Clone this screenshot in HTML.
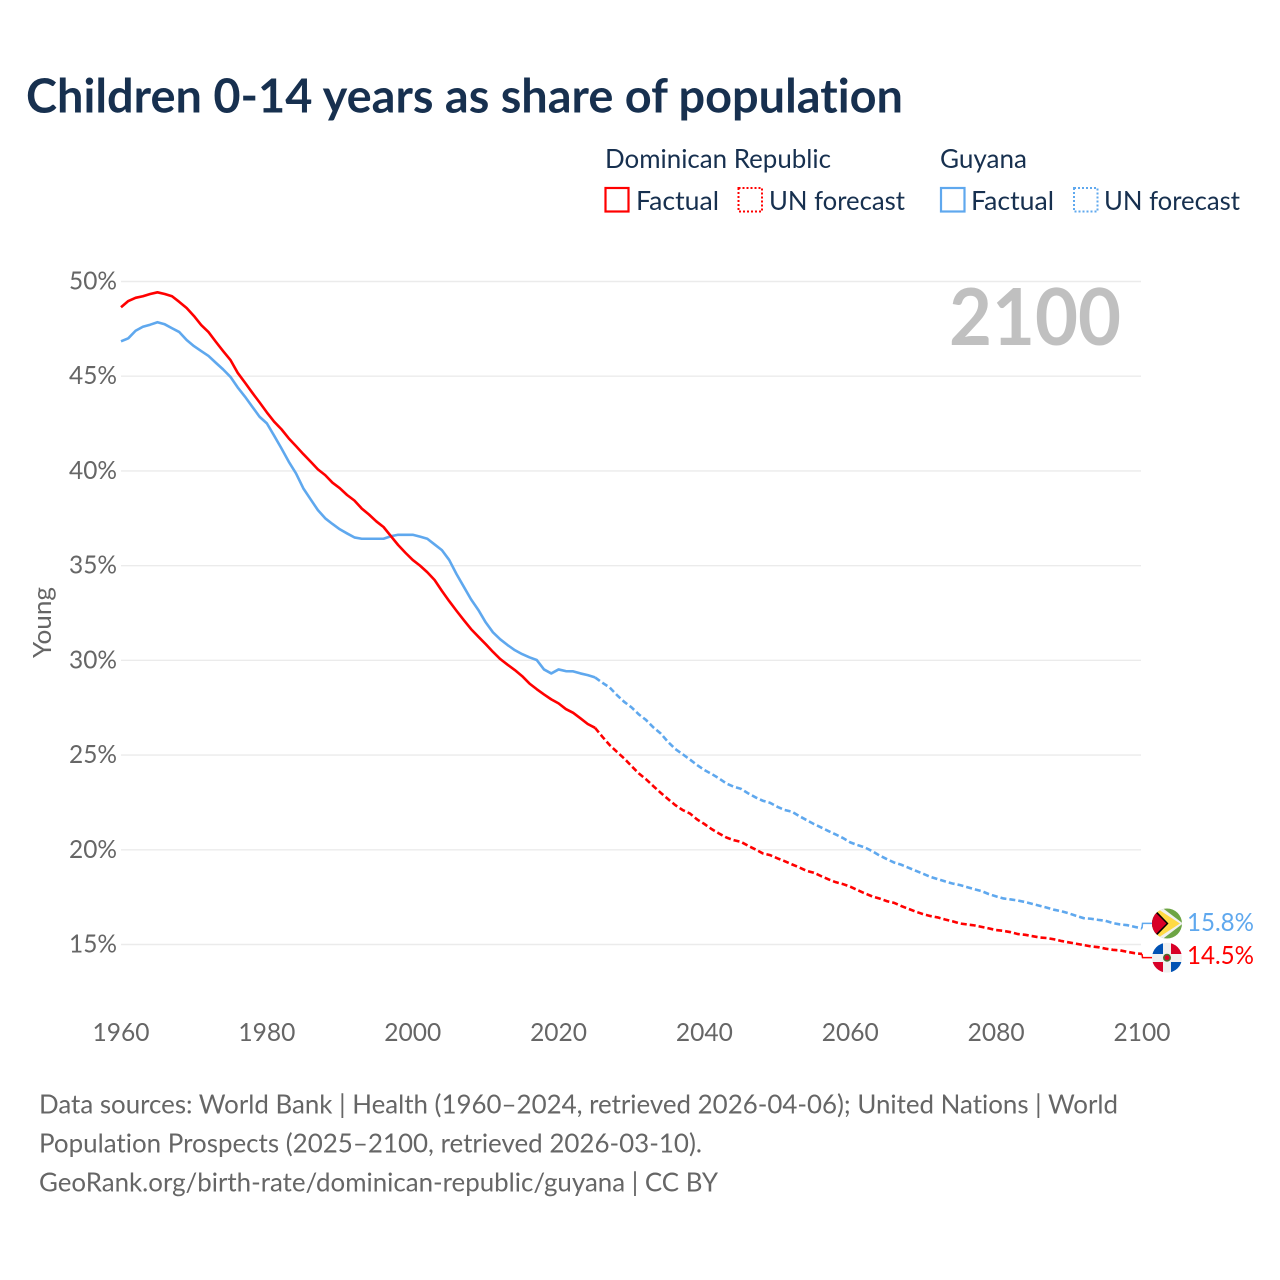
<!DOCTYPE html>
<html lang="en">
<head>
<meta charset="utf-8">
<title>Children 0-14 years as share of population</title>
<style>
html,body{margin:0;padding:0;background:#fff;}
svg{display:block;font-family:"Lato","Carlito","Liberation Sans",sans-serif;}
text{font-variant-ligatures:none;}
</style>
</head>
<body>
<svg id="chart" xmlns="http://www.w3.org/2000/svg" width="1280" height="1280" viewBox="0 0 1280 1280">
  <rect x="0" y="0" width="1280" height="1280" fill="#ffffff"/>
  <text x="26" y="112.5" font-size="47" font-weight="700" fill="#17304f" textLength="877" lengthAdjust="spacingAndGlyphs">Children 0-14 years as share of population</text>

  <g>
    <text x="605" y="168" font-size="26" fill="#17304f" textLength="226" lengthAdjust="spacingAndGlyphs">Dominican Republic</text>
    <text x="940" y="168" font-size="26" fill="#17304f" textLength="87" lengthAdjust="spacingAndGlyphs">Guyana</text>
    <g>
      <rect x="605.5" y="188" width="23" height="23.5" fill="none" stroke="#ff0000" stroke-width="2.2"/>
      <text x="636" y="210" font-size="26" fill="#17304f" textLength="83" lengthAdjust="spacingAndGlyphs">Factual</text>
    </g>
    <g>
      <rect x="738.5" y="188" width="23.5" height="23.5" fill="none" stroke="#ff0000" stroke-width="2" stroke-dasharray="2 2"/>
      <text x="769" y="210" font-size="26" fill="#17304f" textLength="136" lengthAdjust="spacingAndGlyphs">UN forecast</text>
    </g>
    <g>
      <rect x="941" y="188" width="23.5" height="23.5" fill="none" stroke="#5fa8ee" stroke-width="2.2"/>
      <text x="971" y="210" font-size="26" fill="#17304f" textLength="83" lengthAdjust="spacingAndGlyphs">Factual</text>
    </g>
    <g>
      <rect x="1074" y="188" width="23.5" height="23.5" fill="none" stroke="#5fa8ee" stroke-width="2" stroke-dasharray="2 2"/>
      <text x="1104" y="210" font-size="26" fill="#17304f" textLength="136" lengthAdjust="spacingAndGlyphs">UN forecast</text>
    </g>
  </g>

  <g id="grid"></g>
  <g id="yticks"></g>
  <g id="xticks"></g>
  <text transform="translate(51 622.5) rotate(-90)" text-anchor="middle" font-size="25" fill="#666666" textLength="71" lengthAdjust="spacingAndGlyphs">Young</text>
  <text x="949" y="345" font-size="79" font-weight="700" fill="#c0c0c0" textLength="172" lengthAdjust="spacingAndGlyphs">2100</text>

  <g id="series"></g>

  <defs>
    <clipPath id="flag-clip-gy"><circle cx="1167" cy="923.5" r="15"/></clipPath>
    <clipPath id="flag-clip-dr"><circle cx="1167" cy="957.7" r="15"/></clipPath>
  </defs>
  <g id="flag-guyana" clip-path="url(#flag-clip-gy)">
    <rect x="1152" y="908.5" width="30" height="30" fill="#6da544"/>
    <path d="M1152 900 L1183 923.5 L1152 947 Z" fill="#f0f0f0"/>
    <path d="M1152 905.2 L1180 923.5 L1152 941.8 Z" fill="#ffda44"/>
    <path d="M1152 906.5 L1168.5 923.5 L1152 940.5 Z" fill="#000000"/>
    <path d="M1152 909 L1166.5 923.5 L1152 938 Z" fill="#d80027"/>
  </g>
  <g id="flag-dr" clip-path="url(#flag-clip-dr)">
    <rect x="1152" y="942.7" width="30" height="30" fill="#f0f0f0"/>
    <rect x="1152" y="942.7" width="11" height="11.3" fill="#0052b4"/>
    <rect x="1171" y="942.7" width="11" height="11.3" fill="#d80027"/>
    <rect x="1152" y="962" width="11" height="11" fill="#d80027"/>
    <rect x="1171" y="962" width="11" height="11" fill="#0052b4"/>
    <circle cx="1167" cy="957.7" r="4" fill="#496e2d"/>
    <circle cx="1167" cy="957.7" r="2.4" fill="#d80027"/>
  </g>

  <g font-size="26" fill="#666666">
    <text x="39" y="1113.5" textLength="1079" lengthAdjust="spacingAndGlyphs">Data sources: World Bank | Health (1960–2024, retrieved 2026-04-06); United Nations | World</text>
    <text x="39" y="1152.5" textLength="663" lengthAdjust="spacingAndGlyphs">Population Prospects (2025–2100, retrieved 2026-03-10).</text>
    <text x="39" y="1191.5" textLength="679" lengthAdjust="spacingAndGlyphs">GeoRank.org/birth-rate/dominican-republic/guyana | CC BY</text>
  </g>
</svg>

<script>
const xTickLabels = [1960, 1980, 2000, 2020, 2040, 2060, 2080, 2100];
const yTickValues = [50, 45, 40, 35, 30, 25, 20, 15];
const factualStartYear = 1960;
const forecastStartYear = 2025;

const drFactual = [48.64,48.97,49.14,49.22,49.34,49.43,49.34,49.22,48.92,48.60,
48.18,47.70,47.33,46.82,46.33,45.86,45.18,44.66,44.13,43.62,
43.09,42.60,42.20,41.72,41.31,40.89,40.49,40.08,39.78,39.38,
39.09,38.73,38.44,38.02,37.70,37.34,37.04,36.56,36.09,35.68,
35.30,35.00,34.65,34.24,33.67,33.13,32.62,32.13,31.65,31.25,
30.86,30.45,30.07,29.77,29.49,29.17,28.78,28.48,28.20,27.94,
27.73,27.43,27.23,26.94,26.64,26.44];

const drForecast = [26.44,25.97,25.53,25.17,24.82,24.42,24.03,23.72,23.36,23.01,
22.68,22.36,22.10,21.92,21.60,21.36,21.09,20.86,20.65,20.51,
20.42,20.21,20.02,19.81,19.72,19.55,19.40,19.23,19.07,18.89,
18.79,18.61,18.44,18.29,18.19,18.05,17.87,17.70,17.54,17.43,
17.29,17.20,17.03,16.88,16.73,16.60,16.50,16.43,16.32,16.23,
16.11,16.06,16.01,15.93,15.85,15.76,15.72,15.65,15.55,15.51,
15.44,15.37,15.34,15.27,15.18,15.11,15.04,14.97,14.90,14.86,
14.78,14.72,14.69,14.61,14.54,14.50];

const guyanaFactual = [46.84,47.00,47.40,47.61,47.72,47.85,47.74,47.53,47.33,46.91,
46.59,46.33,46.07,45.71,45.36,44.97,44.41,43.92,43.39,42.86,
42.51,41.86,41.19,40.49,39.87,39.08,38.50,37.93,37.50,37.20,
36.92,36.70,36.49,36.42,36.42,36.42,36.42,36.55,36.63,36.63,
36.63,36.53,36.42,36.12,35.82,35.30,34.56,33.89,33.22,32.66,
32.01,31.48,31.11,30.81,30.54,30.33,30.16,30.02,29.52,29.31,
29.52,29.43,29.42,29.31,29.22,29.10];

const guyanaForecast = [29.10,28.82,28.57,28.17,27.81,27.52,27.15,26.85,26.46,26.14,
25.70,25.32,25.05,24.77,24.47,24.21,24.00,23.77,23.50,23.33,
23.22,22.98,22.77,22.59,22.48,22.27,22.10,22.01,21.78,21.57,
21.36,21.18,20.99,20.81,20.62,20.39,20.25,20.12,19.93,19.70,
19.51,19.33,19.21,19.05,18.89,18.73,18.57,18.45,18.33,18.22,
18.14,18.03,17.92,17.82,17.66,17.54,17.43,17.38,17.32,17.24,
17.14,17.04,16.94,16.83,16.75,16.64,16.51,16.39,16.36,16.30,
16.25,16.13,16.06,16.02,15.93,15.85];

const drLabel = "14.5%";
const guyanaLabel = "15.8%";

const NS = "http://www.w3.org/2000/svg";
const RED = "#ff0000";
const BLUE = "#5fa8ee";

function xScale(year) { return 121 + (year - 1960) * (1142 - 121) / 140; }
function yScale(value) { return 281.5 + (50 - value) * (944.5 - 281.5) / 35; }

function make(tag, parent, attrs) {
  const el = document.createElementNS(NS, tag);
  for (const k in attrs) el.setAttribute(k, attrs[k]);
  parent.appendChild(el);
  return el;
}

const gridGroup = document.getElementById("grid");
const yTickGroup = document.getElementById("yticks");
const xTickGroup = document.getElementById("xticks");
const seriesGroup = document.getElementById("series");

yTickValues.forEach(function (v) {
  const line = make("line", gridGroup, { x1: 121, x2: 1141, y1: yScale(v), y2: yScale(v), stroke: "#ebebeb", "stroke-width": 1.4 });
  
  
  const t = make("text", yTickGroup, { x: 117, y: yScale(v) + 8, "text-anchor": "end", "font-size": 25, fill: "#666666", textLength: 48, lengthAdjust: "spacingAndGlyphs" });
  
  
  t.textContent = v + "%";
});

xTickLabels.forEach(function (yr) {
  const t = make("text", xTickGroup, { x: xScale(yr), y: 1041, "text-anchor": "middle", "font-size": 25, fill: "#666666", textLength: 57, lengthAdjust: "spacingAndGlyphs" });
  
  
  t.textContent = yr;
});

function pathFor(values, startYear) {
  return values.map(function (v, i) {
    return (i ? "L" : "M") + xScale(startYear + i).toFixed(2) + " " + yScale(v).toFixed(2);
  }).join(" ");
}

const guyanaFactualLine = make("path", seriesGroup, { d: pathFor(guyanaFactual, factualStartYear), fill: "none", stroke: BLUE, "stroke-width": 2.6, "stroke-linejoin": "round" });



const drFactualLine = make("path", seriesGroup, { d: pathFor(drFactual, factualStartYear), fill: "none", stroke: RED, "stroke-width": 2.6, "stroke-linejoin": "round" });



const guyanaForecastLine = make("path", seriesGroup, { d: pathFor(guyanaForecast, forecastStartYear), fill: "none", stroke: BLUE, "stroke-width": 2.6, "stroke-dasharray": "6 3" });



const drForecastLine = make("path", seriesGroup, { d: pathFor(drForecast, forecastStartYear), fill: "none", stroke: RED, "stroke-width": 2.6, "stroke-dasharray": "6 3" });



const endX = xScale(2100);
const gyEndY = yScale(guyanaForecast[guyanaForecast.length - 1]);
const drEndY = yScale(drForecast[drForecast.length - 1]);
const gyLabelY = gyEndY - 5;
const drLabelY = drEndY + 3.7;

const gyConnector = make("path", seriesGroup, { d: "M" + endX + " " + gyEndY + " L" + (endX + 0.5) + " " + gyLabelY + " L" + (endX + 12) + " " + gyLabelY, fill: "none", stroke: BLUE, "stroke-width": 1.5 });



const drConnector = make("path", seriesGroup, { d: "M" + endX + " " + drEndY + " L" + (endX + 0.5) + " " + drLabelY + " L" + (endX + 12) + " " + drLabelY, fill: "none", stroke: RED, "stroke-width": 1.5 });



const gyValue = make("text", seriesGroup, { x: 1187, y: gyLabelY + 7.5, "font-size": 25, fill: BLUE, textLength: 67, lengthAdjust: "spacingAndGlyphs" });


gyValue.textContent = guyanaLabel;

const drValue = make("text", seriesGroup, { x: 1187, y: drLabelY + 6.5, "font-size": 25, fill: RED, textLength: 67, lengthAdjust: "spacingAndGlyphs" });


drValue.textContent = drLabel;
</script>
</body>
</html>
